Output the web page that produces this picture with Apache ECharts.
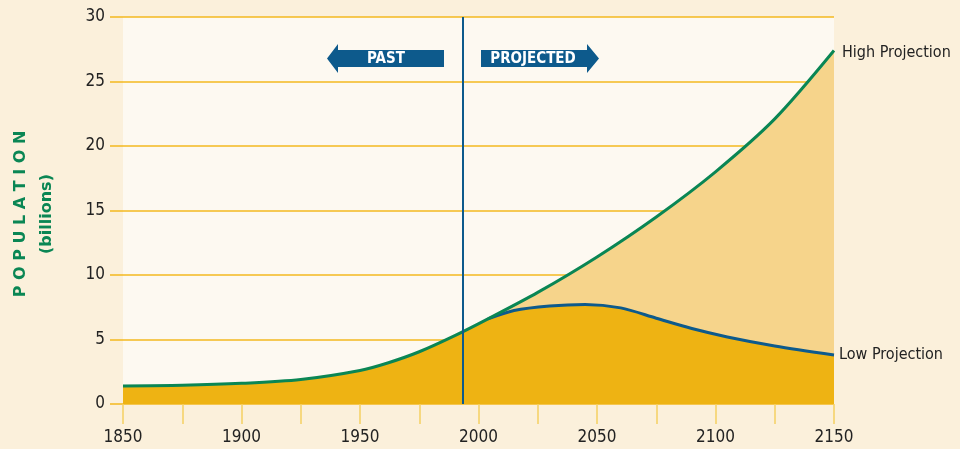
<!DOCTYPE html>
<html>
<head>
<meta charset="utf-8">
<script src="https://cdn.jsdelivr.net/npm/echarts@6/dist/echarts.min.js"></script>
<style>
  html, body { margin: 0; padding: 0; background: #fbf0db; }
  #chart { width: 960px; height: 449px; }
</style>
</head>
<body>
<div id="chart"></div>
<script>
// past population (billions) up to where projections split
var pastYears = [1850, 1875, 1900, 1925, 1950, 1962, 1975, 1990, 2004]
var pastPop = [1.4, 1.45, 1.6, 1.9, 2.6, 3.2, 4.05, 5.3, 6.6]
// high projection
var highYears = [2004, 2025, 2050, 2075, 2100, 2125, 2150]
var highPop = [6.6, 8.65, 11.4, 14.5, 18.0, 22.1, 27.4]
// low projection
var lowYears = [2004, 2015, 2030, 2045, 2060, 2075, 2090, 2105, 2125, 2150]
var lowPop = [6.6, 7.25, 7.6, 7.72, 7.45, 6.65, 5.85, 5.2, 4.5, 3.8]
var dividerYear = 1993.5

var font = 'DejaVu Sans Condensed'
var green = '#0a8654'
var blue = '#0d5a8c'

function pairs (xs, ys) {
  return xs.map(function (x, i) { return [x, ys[i]] })
}
var pastData = pairs(pastYears, pastPop)
var highData = pastData.concat(pairs(highYears, highPop).slice(1))
var lowData = pastData.concat(pairs(lowYears, lowPop).slice(1))
var lowOnly = pairs(lowYears, lowPop)

var chart = echarts.init(document.getElementById('chart'))
chart.setOption({
  animation: false,
  backgroundColor: '#fbf0db',
  grid: {
    left: 123, right: 126, top: 17, bottom: 45,
    show: true, backgroundColor: '#fdf9f1', borderWidth: 0
  },
  xAxis: {
    type: 'value', min: 1850, max: 2150, interval: 50,
    axisLine: { show: false },
    axisTick: { show: true, length: 20, lineStyle: { color: '#f5cf63', width: 1.5 } },
    minorTick: { show: true, splitNumber: 2, length: 20, lineStyle: { color: '#f5cf63', width: 1.5 } },
    splitLine: { show: false },
    axisLabel: { margin: 25, color: '#222', fontSize: 17, fontFamily: font, formatter: function (v) { return String(v) } }
  },
  yAxis: {
    type: 'value', min: 0, max: 30, interval: 5,
    axisLine: { show: false },
    axisTick: { show: true, length: 13, lineStyle: { color: '#f3b81f', width: 1.5 } },
    splitLine: { show: true, lineStyle: { color: '#f3b81f', width: 1.5 } },
    axisLabel: { margin: 18, color: '#222', fontSize: 17, fontFamily: font }
  },
  series: [
    {
      name: 'highArea', type: 'line', data: highData, smooth: 0.3,
      symbol: 'none', lineStyle: { width: 0 },
      areaStyle: { color: '#f6d48b', opacity: 1 }, z: 1
    },
    {
      name: 'lowArea', type: 'line', data: lowData, smooth: 0.3,
      symbol: 'none', lineStyle: { width: 0 },
      areaStyle: { color: '#eeb313', opacity: 1 }, z: 2
    },
    {
      name: 'Low Projection', type: 'line', data: lowOnly, smooth: 0.3,
      symbol: 'none', lineStyle: { color: blue, width: 3 }, z: 3,
      endLabel: { show: true, formatter: '{a}', color: '#222', fontSize: 16, fontFamily: font, distance: 5 }
    },
    {
      name: 'High Projection', type: 'line', data: highData, smooth: 0.3,
      symbol: 'none', lineStyle: { color: green, width: 3 }, z: 4,
      endLabel: { show: true, formatter: '{a}', color: '#222', fontSize: 16, fontFamily: font, distance: 8, offset: [0, 2] },
      markLine: {
        silent: true, symbol: 'none', label: { show: false },
        lineStyle: { color: blue, width: 2, type: 'solid' },
        data: [{ xAxis: dividerYear }]
      }
    }
  ],
  graphic: [
    {
      type: 'polygon', shape: { points: [[327, 58.5], [338, 44], [338, 50], [444, 50], [444, 67], [338, 67], [338, 73]] },
      style: { fill: blue }
    },
    {
      type: 'text', x: 386, y: 59,
      style: { text: 'PAST', fill: '#fff', font: 'bold 15px "DejaVu Sans Condensed"', align: 'center', verticalAlign: 'middle' }
    },
    {
      type: 'polygon', shape: { points: [[481, 50], [587, 50], [587, 44], [599, 58.5], [587, 73], [587, 67], [481, 67]] },
      style: { fill: blue }
    },
    {
      type: 'text', x: 533, y: 59,
      style: { text: 'PROJECTED', fill: '#fff', font: 'bold 15px "DejaVu Sans Condensed"', align: 'center', verticalAlign: 'middle' }
    },
    {
      type: 'text', x: 21, y: 214, rotation: Math.PI / 2,
      style: { text: 'P O P U L A T I O N', fill: green, font: 'bold 16px "DejaVu Sans"', align: 'center', verticalAlign: 'middle' }
    },
    {
      type: 'text', x: 47, y: 214, rotation: Math.PI / 2,
      style: { text: '(billions)', fill: green, font: 'bold 16px "DejaVu Sans"', align: 'center', verticalAlign: 'middle' }
    }
  ]
})
</script>
</body>
</html>
